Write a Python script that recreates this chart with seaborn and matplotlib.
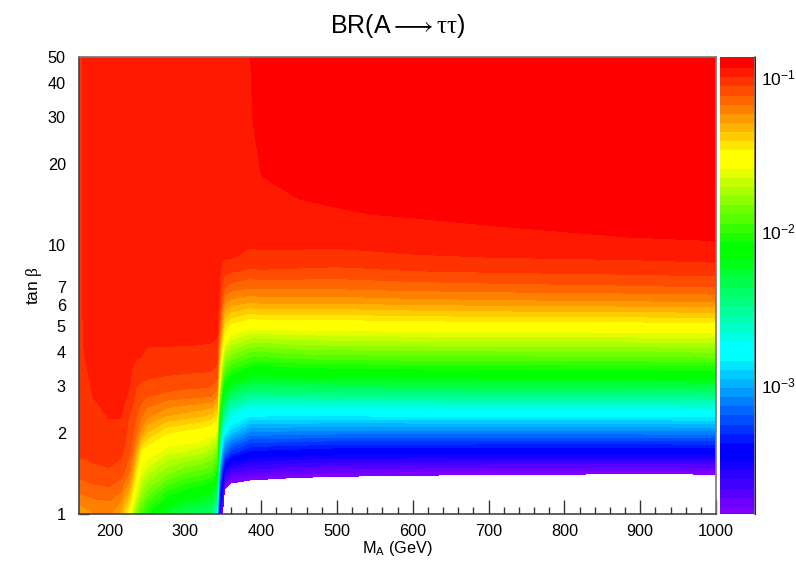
import numpy as np
import matplotlib
matplotlib.use('Agg')
import matplotlib.pyplot as plt
from matplotlib.ticker import FixedLocator, FuncFormatter, NullFormatter
import seaborn as sns

sns.set_style('ticks')
plt.rcParams['font.family'] = ['Liberation Sans', 'DejaVu Sans']
plt.rcParams['mathtext.fontset'] = 'custom'
plt.rcParams['mathtext.rm'] = 'Liberation Sans'
plt.rcParams['mathtext.it'] = 'Liberation Serif'
plt.rcParams['mathtext.bf'] = 'Liberation Sans:bold'
plt.rcParams['text.color'] = 'black'
plt.rcParams['axes.labelcolor'] = 'black'

tanb = [1, 1.2, 1.4, 1.7, 2, 2.35, 2.8, 3.25, 3.8, 4.3, 4.85, 5.5, 6.2, 7, 8, 9, 10.7, 13, 18, 30, 50]
ma = [160, 170, 180, 200, 215, 220, 225, 230, 235, 242, 250, 275, 300, 320, 335, 342, 345, 349, 352, 360, 385, 392, 400, 420, 450, 500, 600, 720, 890, 1000]

br_160 = [-1.27, -1.17, -1.09, -1.035, -1.025, -1.02, -1.015, -1.01, -1.005, -1.0, -1.0, -0.998, -0.998, -0.997, -0.997, -0.996, -0.995, -0.995, -0.995, -0.995, -0.995]
br_170 = [-1.25, -1.15, -1.08, -1.03, -1.02, -1.01, -1.0, -0.995, -0.985, -0.98, -0.98, -0.98, -0.98, -0.98, -0.98, -0.98, -0.98, -0.98, -0.98, -0.98, -0.98]
br_180 = [-1.23, -1.14, -1.07, -1.025, -1.01, -1.0, -0.985, -0.975, -0.965, -0.96, -0.96, -0.955, -0.955, -0.955, -0.955, -0.955, -0.955, -0.955, -0.955, -0.955, -0.955]
br_200 = [-1.22, -1.13, -1.06, -1.02, -1.0, -0.985, -0.97, -0.96, -0.955, -0.95, -0.95, -0.95, -0.95, -0.95, -0.95, -0.95, -0.95, -0.95, -0.95, -0.95, -0.95]
br_215 = [-1.3, -1.17, -1.09, -1.03, -1.0, -0.985, -0.97, -0.96, -0.955, -0.95, -0.95, -0.95, -0.95, -0.95, -0.95, -0.95, -0.95, -0.95, -0.95, -0.95, -0.95]
br_220 = [-1.4, -1.24, -1.12, -1.055, -1.03, -1.0, -0.98, -0.97, -0.96, -0.955, -0.95, -0.95, -0.95, -0.95, -0.95, -0.95, -0.95, -0.95, -0.95, -0.95, -0.95]
br_225 = [-1.5, -1.3, -1.17, -1.08, -1.065, -1.04, -0.99, -0.975, -0.965, -0.955, -0.95, -0.945, -0.945, -0.945, -0.945, -0.945, -0.945, -0.945, -0.945, -0.945, -0.945]
br_230 = [-1.65, -1.42, -1.28, -1.14, -1.09, -1.06, -1.02, -0.995, -0.98, -0.965, -0.955, -0.95, -0.945, -0.945, -0.945, -0.945, -0.945, -0.945, -0.945, -0.945, -0.945]
br_235 = [-1.82, -1.6, -1.46, -1.26, -1.15, -1.09, -1.055, -1.035, -0.985, -0.975, -0.965, -0.955, -0.95, -0.945, -0.945, -0.945, -0.945, -0.945, -0.945, -0.945, -0.945]
br_242 = [-1.95, -1.76, -1.62, -1.48, -1.25, -1.15, -1.07, -1.037, -0.99, -0.98, -0.967, -0.957, -0.95, -0.945, -0.945, -0.945, -0.945, -0.945, -0.945, -0.945, -0.945]
br_250 = [-2.05, -1.85, -1.7, -1.52, -1.35, -1.2, -1.09, -1.04, -1.0, -0.985, -0.97, -0.96, -0.955, -0.95, -0.945, -0.945, -0.945, -0.945, -0.945, -0.945, -0.945]
br_275 = [-2.25, -2.02, -1.82, -1.62, -1.46, -1.27, -1.115, -1.05, -1.005, -0.985, -0.965, -0.96, -0.955, -0.95, -0.945, -0.945, -0.945, -0.945, -0.945, -0.945, -0.945]
br_300 = [-2.35, -2.1, -1.9, -1.65, -1.49, -1.3, -1.125, -1.055, -1.01, -0.985, -0.965, -0.955, -0.95, -0.945, -0.945, -0.94, -0.94, -0.94, -0.94, -0.94, -0.94]
br_320 = [-2.38, -2.13, -1.93, -1.68, -1.51, -1.32, -1.13, -1.058, -1.01, -0.987, -0.966, -0.956, -0.95, -0.945, -0.945, -0.94, -0.94, -0.94, -0.94, -0.94, -0.94]
br_335 = [-2.42, -2.18, -1.97, -1.74, -1.55, -1.35, -1.14, -1.06, -1.015, -0.99, -0.97, -0.96, -0.955, -0.95, -0.95, -0.945, -0.945, -0.945, -0.945, -0.945, -0.945]
br_342 = [-2.75, -2.4, -2.1, -1.85, -1.62, -1.42, -1.2, -1.09, -1.03, -1.0, -0.975, -0.965, -0.96, -0.955, -0.95, -0.945, -0.945, -0.945, -0.945, -0.945, -0.945]
br_345 = [-3.6, -3.3, -3.0, -2.6, -2.3, -2.0, -1.72, -1.5, -1.33, -1.2, -1.1, -1.04, -1.0, -0.99, -0.975, -0.965, -0.955, -0.945, -0.94, -0.94, -0.94]
br_349 = [-3.83, -3.55, -3.35, -3.0, -2.7, -2.4, -2.1, -1.85, -1.62, -1.45, -1.32, -1.22, -1.12, -1.06, -1.01, -0.98, -0.965, -0.955, -0.95, -0.945, -0.945]
br_352 = [-4.2, -3.9, -3.6, -3.15, -2.82, -2.5, -2.2, -1.98, -1.77, -1.6, -1.45, -1.32, -1.2, -1.1, -1.03, -0.98, -0.965, -0.955, -0.95, -0.94, -0.94]
br_360 = [-4.33, -3.99, -3.7, -3.27, -2.93, -2.68, -2.36, -2.08, -1.85, -1.68, -1.52, -1.37, -1.24, -1.13, -1.04, -0.985, -0.97, -0.96, -0.95, -0.94, -0.94]
br_385 = [-4.42, -4.06, -3.74, -3.38, -3.09, -2.8, -2.46, -2.18, -1.95, -1.77, -1.59, -1.42, -1.27, -1.155, -1.06, -1.0, -0.975, -0.96, -0.945, -0.935, -0.932]
br_392 = [-4.43, -4.065, -3.745, -3.385, -3.09, -2.8, -2.465, -2.185, -1.955, -1.775, -1.585, -1.415, -1.265, -1.152, -1.058, -1.0, -0.972, -0.958, -0.937, -0.925, -0.92]
br_400 = [-4.44, -4.07, -3.75, -3.39, -3.09, -2.8, -2.47, -2.19, -1.96, -1.78, -1.58, -1.41, -1.26, -1.15, -1.055, -1.0, -0.968, -0.955, -0.93, -0.915, -0.91]
br_420 = [-4.45, -4.09, -3.77, -3.4, -3.095, -2.8, -2.465, -2.18, -1.945, -1.765, -1.58, -1.41, -1.26, -1.15, -1.057, -1.003, -0.966, -0.942, -0.925, -0.91, -0.905]
br_450 = [-4.46, -4.1, -3.79, -3.41, -3.1, -2.8, -2.46, -2.17, -1.93, -1.75, -1.575, -1.41, -1.26, -1.15, -1.06, -1.005, -0.963, -0.936, -0.918, -0.905, -0.9]
br_500 = [-4.48, -4.12, -3.81, -3.43, -3.11, -2.8, -2.45, -2.16, -1.92, -1.74, -1.57, -1.41, -1.26, -1.15, -1.065, -1.01, -0.96, -0.933, -0.91, -0.9, -0.895]
br_600 = [-4.49, -4.14, -3.83, -3.43, -3.11, -2.795, -2.445, -2.15, -1.91, -1.73, -1.56, -1.395, -1.245, -1.135, -1.05, -0.995, -0.952, -0.925, -0.905, -0.895, -0.89]
br_720 = [-4.5, -4.16, -3.845, -3.44, -3.11, -2.79, -2.44, -2.145, -1.905, -1.725, -1.555, -1.385, -1.235, -1.125, -1.04, -0.988, -0.943, -0.912, -0.9, -0.89, -0.885]
br_890 = [-4.5, -4.17, -3.855, -3.44, -3.11, -2.79, -2.44, -2.14, -1.9, -1.72, -1.55, -1.38, -1.226, -1.115, -1.03, -0.98, -0.929, -0.905, -0.892, -0.885, -0.88]
br_1000 = [-4.49, -4.16, -3.85, -3.44, -3.1, -2.78, -2.43, -2.13, -1.89, -1.71, -1.54, -1.37, -1.22, -1.105, -1.02, -0.97, -0.92, -0.9, -0.888, -0.88, -0.875]

x_ticks = [200, 300, 400, 500, 600, 700, 800, 900, 1000]
y_ticks = [1, 2, 3, 4, 5, 6, 7, 8, 9, 10, 20, 30, 40, 50]
y_labels = [1, 2, 3, 4, 5, 6, 7, 10, 20, 30, 40, 50]

columns = [br_160, br_170, br_180, br_200, br_215, br_220, br_225, br_230, br_235, br_242, br_250, br_275, br_300,
           br_320, br_335, br_342, br_345, br_349, br_352, br_360, br_385, br_392, br_400, br_420, br_450, br_500,
           br_600, br_720, br_890, br_1000]
z = np.array(columns).T

# rainbow in 50 steps, segments sized like the colour bar
palette = (sns.blend_palette(['#8000ff', '#0000ff'], 7)
           + sns.blend_palette(['#0000ff', '#00ffff'], 11)
           + sns.blend_palette(['#00ffff', '#00ff00'], 11)
           + sns.blend_palette(['#00ff00', '#ffff00'], 10)
           + sns.blend_palette(['#ffff00', '#ff0000'], 11))
levels = np.linspace(-3.84, -0.87, 51)

W, H = 796, 573
fig = plt.figure(figsize=(W / 100, H / 100), dpi=100)
ax = fig.add_axes([79 / W, 1 - 514 / H, (716 - 79) / W, (514 - 57) / H])
cax = fig.add_axes([720 / W, 1 - 514 / H, (755 - 720) / W, (514 - 57) / H])

cs = ax.contourf(ma, tanb, z, levels=levels, colors=palette, antialiased=False)
ax.set_yscale('log')
ax.set_xlim(160, 1000)
ax.set_ylim(1, 50)

frame = '#777777'
for s in ax.spines.values():
    s.set_color(frame)
    s.set_linewidth(1.2)
    s.set_zorder(5)
ax.spines['left'].set_color('#444444')
ax.spines['bottom'].set_color('#444444')

ax.xaxis.set_major_locator(FixedLocator(x_ticks))
ax.xaxis.set_minor_locator(FixedLocator(np.arange(180, 1000, 20)))
ax.tick_params(axis='x', which='major', direction='in', length=10, width=1, color='#333333', labelcolor='black', labelsize=11.7, pad=7.5)
ax.tick_params(axis='x', which='minor', direction='in', length=5, width=1, color='#333333')
ax.yaxis.set_major_locator(FixedLocator(y_ticks))
ax.yaxis.set_minor_locator(FixedLocator([]))
ax.yaxis.set_major_formatter(FuncFormatter(lambda v, p: '%g' % v if round(v) in y_labels else ''))
ax.yaxis.set_minor_formatter(NullFormatter())
ax.tick_params(axis='y', which='major', direction='in', length=7, width=1, color='#333333', labelcolor='black', labelsize=11.7, pad=9.5)

ax.set_xlabel('M$_{\\mathregular{A}}$ (GeV)', fontsize=11.7, labelpad=-0.2)
ax.set_ylabel('tan $\\mathit{\\beta}$', fontsize=12.5)
ax.yaxis.set_label_coords((44 - 79) / (716 - 79), (514 - 285) / (514 - 57))
fig.text(398 / W, 1 - 26 / H, 'BR(A$\\longrightarrow\\tau\\tau$)', fontsize=18, ha='center', va='center')

cb = fig.colorbar(cs, cax=cax)
cb.solids.set_edgecolor('face')
cb.outline.set_visible(False)
cax.spines['right'].set_visible(True)
cax.yaxis.set_major_locator(FixedLocator([-3, -2, -1]))
cax.yaxis.set_major_formatter(FuncFormatter(lambda v, p: '$\\mathregular{10^{%d}}$' % round(v)))
minor = np.log10([m * 10.0 ** k for k in (-4, -3, -2, -1) for m in range(2, 10)])
cax.yaxis.set_minor_locator(FixedLocator(minor[(minor > -3.84) & (minor < -0.87)]))
cax.yaxis.set_ticks_position('right')
cax.tick_params(axis='y', which='major', direction='in', length=13, width=1, color='#333333', labelcolor='black', labelsize=12.5, pad=4)
cax.tick_params(axis='y', which='minor', direction='in', length=7, width=1, color='#333333')
cax.plot([1, 1], [-3.84, -0.87], color=frame, lw=1.4, transform=cax.get_yaxis_transform(), clip_on=False)

fig.savefig('out.png', dpi=100)
